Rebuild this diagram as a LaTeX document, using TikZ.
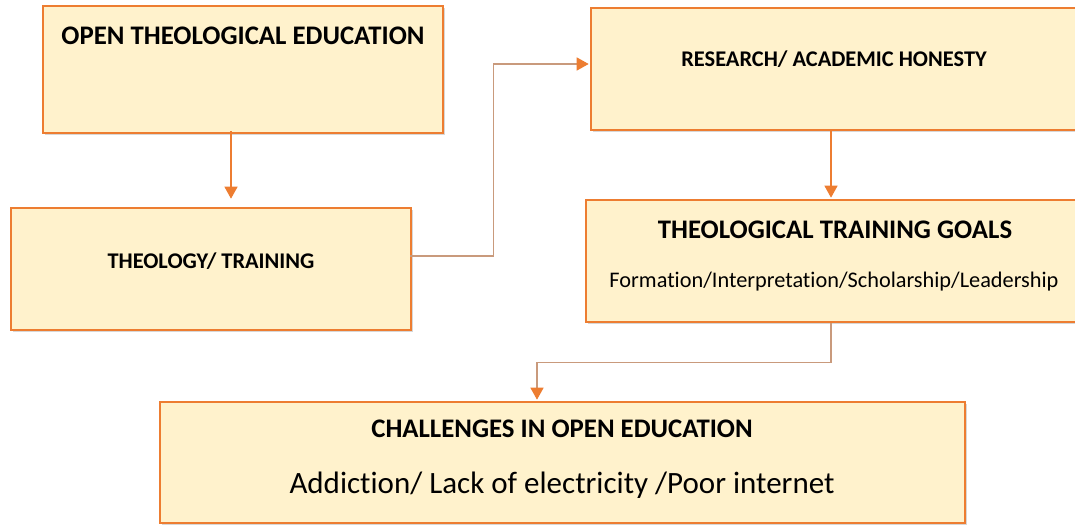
\documentclass[tikz,border=0pt]{standalone}
\usepackage{fontspec}
\setmainfont{Carlito}[Ligatures=NoCommon]
\usetikzlibrary{arrows.meta,shadows}

\definecolor{boxline}{HTML}{ED7D31}
\definecolor{boxfill}{HTML}{FFF2CC}
\definecolor{elbow}{HTML}{C99A7C}

\tikzset{
  box/.style={draw=boxline, line width=2.6pt, fill=boxfill, inner sep=0pt,
    drop shadow={shadow xshift=1.6pt, shadow yshift=-1.6pt, opacity=0.35, fill=black!45}},
  title/.style={anchor=base, font=\bfseries\fontsize{26.8}{31}\selectfont},
  smalltitle/.style={anchor=base, font=\bfseries\fontsize{22.4}{27}\selectfont},
  subline/.style={anchor=base, font=\fontsize{22.3}{27}\selectfont},
  bigline/.style={anchor=base, font=\fontsize{31}{37}\selectfont},
  straight/.style={draw=boxline, line width=1.3pt, -{Triangle[width=13pt,length=12pt]}},
  elbowline/.style={draw=elbow, line width=1.4pt, -{Triangle[width=13pt,length=12pt,color=boxline]}},
}

\begin{document}
\begin{tikzpicture}[x=1pt, y=-1pt]
  \useasboundingbox (0,0) rectangle (1075,529);
  \clip (0,0) rectangle (1075,529);

  % boxes
  \node[box, minimum width=400pt, minimum height=127pt] (A) at (243,69.5) {};
  \node[box, minimum width=400pt, minimum height=122pt] (B) at (211,269) {};
  \node[box, minimum width=494pt, minimum height=122pt] (C) at (838,69) {};
  \node[box, minimum width=499pt, minimum height=122pt] (D) at (835.5,261) {};
  \node[box, minimum width=805pt, minimum height=121pt] (E) at (562.5,462.5) {};

  % texts
  \node[title] (tA) at (243,45) {OPEN THEOLOGICAL EDUCATION};
  \node[smalltitle] (tB) at (211,268) {THEOLOGY/ TRAINING};
  \node[smalltitle] (tC) at (834,67) {RESEARCH/ ACADEMIC HONESTY};
  \node[title] (tD) at (835,238) {THEOLOGICAL TRAINING GOALS};
  \node[subline] (sD) at (834,287) {Formation/Interpretation/Scholarship/Leadership};
  \node[title] (tE) at (562,437) {CHALLENGES IN OPEN EDUCATION};
  \node[bigline] (sE) at (562,493) {Addiction/ Lack of electricity /Poor internet};

  % connectors
  \draw[straight] ([xshift=-12pt,yshift=3pt]A.south) -- ([xshift=20pt,yshift=8pt]B.north);
  \draw[elbowline] ([xshift=-2pt,yshift=13pt]B.east) -- ++(83,0) |- ([xshift=-1pt,yshift=5pt]C.west);
  \draw[straight] ([xshift=-7pt]C.south) -- ([xshift=-4.5pt,yshift=1pt]D.north);
  \draw[elbowline] ([xshift=-4.5pt]D.south) -- ++(0,39) -| ([xshift=-25.5pt,yshift=1pt]E.north);
\end{tikzpicture}
\end{document}
